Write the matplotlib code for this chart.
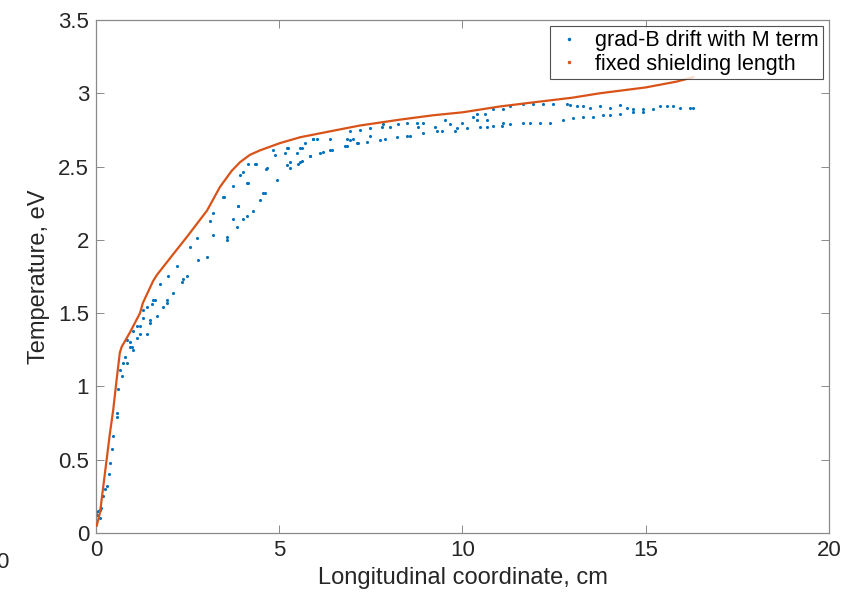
import numpy as np
import matplotlib.pyplot as plt
from matplotlib.lines import Line2D

# fixed shielding length
fixed_x = [0.02, 0.11, 0.20, 0.29, 0.38, 0.47, 0.56, 0.65, 0.70, 0.93, 1.20, 1.28,
           1.56, 1.66, 2.10, 2.48, 3.03, 3.38, 3.70, 3.93, 4.20, 4.47, 5.02, 5.57,
           6.38, 7.20, 8.29, 9.20, 10.00, 11.02, 12.00, 13.00, 13.75, 15.00, 15.85, 16.30]
fixed_y = [0.05, 0.14, 0.32, 0.50, 0.68, 0.84, 1.04, 1.23, 1.27, 1.37, 1.50, 1.57,
           1.72, 1.76, 1.90, 2.02, 2.20, 2.36, 2.47, 2.53, 2.58, 2.61, 2.66, 2.70,
           2.74, 2.78, 2.82, 2.85, 2.87, 2.91, 2.94, 2.97, 3.00, 3.04, 3.08, 3.11]

# grad-B drift with M term (scattered points)
gradb_x = [0.00, 0.02, 0.05, 0.10, 0.11, 0.15, 0.20, 0.25, 0.29, 0.36, 0.38, 0.43,
           0.47, 0.56, 0.56, 0.61, 0.65, 0.70, 0.75, 0.79, 0.84, 0.84, 0.93, 0.93,
           0.97, 1.01, 1.01, 1.11, 1.11, 1.20, 1.20, 1.29, 1.29, 1.38, 1.38, 1.47,
           1.47, 1.52, 1.56, 1.61, 1.66, 1.75, 1.83, 1.93, 1.93, 1.97, 2.10, 2.20,
           2.34, 2.38, 2.48, 2.56, 2.75, 2.79, 3.02, 3.11, 3.20, 3.20, 3.47, 3.49,
           3.57, 3.57, 3.74, 3.74, 3.85, 3.88, 3.88, 3.93, 4.01, 4.01, 4.12, 4.12,
           4.15, 4.15, 4.28, 4.34, 4.37, 4.47, 4.56, 4.61, 4.63, 4.66, 4.83, 4.88,
           4.94, 5.16, 5.21, 5.21, 5.24, 5.29, 5.29, 5.48, 5.51, 5.57, 5.57, 5.62,
           5.62, 5.70, 5.84, 5.84, 5.92, 5.92, 6.03, 6.11, 6.19, 6.38, 6.38, 6.44,
           6.79, 6.85, 6.85, 6.93, 6.93, 7.01, 7.12, 7.15, 7.20, 7.39, 7.48, 7.48,
           7.75, 7.80, 7.83, 7.89, 8.02, 8.21, 8.24, 8.49, 8.49, 8.57, 8.76, 8.79,
           8.92, 8.92, 9.25, 9.30, 9.44, 9.52, 9.66, 9.80, 9.85, 10.00, 10.12, 10.29,
           10.39, 10.39, 10.48, 10.61, 10.67, 10.67, 10.84, 10.84, 11.08, 11.10, 11.10,
           11.30, 11.30, 11.65, 11.65, 11.84, 11.92, 12.11, 12.20, 12.39, 12.47, 12.74,
           12.85, 12.93, 13.02, 13.12, 13.30, 13.30, 13.48, 13.57, 13.75, 13.84, 14.02,
           14.02, 14.30, 14.30, 14.50, 14.65, 14.65, 14.93, 14.93, 15.20, 15.40, 15.58,
           15.75, 15.93, 16.20, 16.30]
gradb_y = [0.14, 0.12, 0.15, 0.10, 0.16, 0.17, 0.25, 0.30, 0.32, 0.40, 0.48, 0.57,
           0.66, 0.79, 0.82, 0.98, 1.11, 1.07, 1.16, 1.20, 1.16, 1.32, 1.27, 1.30,
           1.27, 1.25, 1.38, 1.33, 1.41, 1.36, 1.41, 1.47, 1.52, 1.36, 1.54, 1.43,
           1.45, 1.56, 1.59, 1.59, 1.48, 1.70, 1.54, 1.59, 1.57, 1.75, 1.64, 1.82,
           1.71, 1.73, 1.75, 1.95, 2.01, 1.86, 1.88, 2.13, 2.18, 2.03, 2.29, 2.29,
           2.02, 2.00, 2.14, 2.37, 2.09, 2.23, 2.23, 2.44, 2.46, 2.14, 2.16, 2.39,
           2.52, 2.39, 2.20, 2.52, 2.52, 2.27, 2.32, 2.32, 2.48, 2.49, 2.61, 2.58,
           2.41, 2.59, 2.63, 2.51, 2.63, 2.53, 2.49, 2.59, 2.52, 2.53, 2.63, 2.54,
           2.63, 2.66, 2.57, 2.57, 2.69, 2.69, 2.69, 2.59, 2.60, 2.61, 2.69, 2.61,
           2.64, 2.64, 2.69, 2.74, 2.68, 2.69, 2.66, 2.66, 2.75, 2.67, 2.76, 2.71,
           2.68, 2.77, 2.79, 2.69, 2.77, 2.70, 2.79, 2.80, 2.71, 2.71, 2.80, 2.77,
           2.80, 2.73, 2.77, 2.74, 2.74, 2.82, 2.79, 2.74, 2.76, 2.80, 2.76, 2.84,
           2.86, 2.82, 2.77, 2.86, 2.82, 2.77, 2.89, 2.78, 2.78, 2.89, 2.80,
           2.91, 2.79, 2.93, 2.80, 2.80, 2.93, 2.80, 2.93, 2.80, 2.93, 2.82,
           2.93, 2.92, 2.83, 2.91, 2.91, 2.84, 2.90, 2.84, 2.91, 2.85, 2.90,
           2.85, 2.92, 2.86, 2.90, 2.89, 2.87, 2.89, 2.87, 2.89, 2.91, 2.91,
           2.91, 2.90, 2.90, 2.90]

xticks = [0, 5, 10, 15, 20]
yticks = [0, 0.5, 1, 1.5, 2, 2.5, 3, 3.5]
ytick_labels = ['0', '0.5', '1', '1.5', '2', '2.5', '3', '3.5']

blue = '#0072BD'
orange = '#D95319'

plt.rcParams['font.family'] = ['Liberation Sans', 'DejaVu Sans']

fig = plt.figure(figsize=(8.48, 6.13), dpi=100)
ax = fig.add_axes([0.1132, 0.1305, 0.8644, 0.8369])

ax.scatter(gradb_x, gradb_y, s=5, color=blue, linewidths=0, zorder=2)
ax.plot(fixed_x, fixed_y, color=orange, lw=1.6, zorder=3)

ax.set_xlim(0, 20)
ax.set_ylim(0, 3.5)
ax.set_xticks(xticks)
ax.set_yticks(yticks)
ax.set_yticklabels(ytick_labels)
ax.tick_params(direction='in', length=6, width=0.7, top=True, right=True,
               labelsize=16, colors='#8a8a8a', labelcolor='#262626', pad=5)
for sp in ax.spines.values():
    sp.set_color('#8a8a8a')
    sp.set_linewidth(0.9)

ax.set_xlabel('Longitudinal coordinate, cm', fontsize=17, color='#262626', labelpad=4)
ax.set_ylabel('Temperature, eV', fontsize=17, color='#262626', labelpad=6)

handles = [Line2D([], [], ls='none', marker='.', ms=3, color=blue),
           Line2D([], [], ls='none', marker='.', ms=3, color=orange)]
leg = ax.legend(handles, ['grad-B drift with M term', 'fixed shielding length'],
                loc='upper right', bbox_to_anchor=(0.992, 0.988), fontsize=15.5,
                frameon=True, fancybox=False, borderpad=0.2, handletextpad=0.5,
                handlelength=1.4, labelspacing=0.1, borderaxespad=0)
leg.get_frame().set_edgecolor('#262626')
leg.get_frame().set_linewidth(0.8)

# stray tick label fragment at the left edge
fig.text(2 / 848, 1 - 562 / 613, '0', fontsize=16, color='#262626',
         ha='center', va='center')

fig.savefig('out.png', dpi=100)
